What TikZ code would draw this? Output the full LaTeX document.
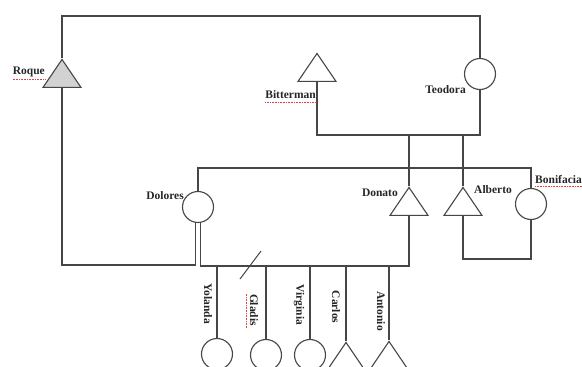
\documentclass[tikz,border=0pt]{standalone}
\usepackage{fontspec}
\setmainfont{Liberation Serif}
\usetikzlibrary{shapes.geometric}
\definecolor{linegray}{HTML}{464646}
\definecolor{roquefill}{HTML}{D2D2D2}
\definecolor{spellred}{HTML}{E04040}
\begin{document}
\begin{tikzpicture}[x=1pt,y=-1pt,
  conn/.style={draw=linegray, line width=1.3pt},
  male/.style={draw=linegray, line width=1.1pt, fill=white, isosceles triangle, shape border rotate=90,
    isosceles triangle stretches, minimum width=38pt, minimum height=28pt, inner sep=0pt},
  female/.style={draw=linegray, line width=1.1pt, fill=white, circle, minimum size=31pt, inner sep=0pt},
  lbl/.style={font=\fontsize{11.5}{12}\selectfont\bfseries, text=black!85, inner sep=0pt},
  vlbl/.style={lbl, rotate=-90},
  squig/.style={draw=spellred, densely dotted, line width=0.6pt}]
\useasboundingbox (0,0) rectangle (582,367);
\clip (0,0) rectangle (582,367);

% persons
\node[male, fill=roquefill, anchor=apex] (roque) at (62,58) {};
\node[female] (teodora) at (480,74) {};
\node[male, anchor=apex] (bitterman) at (317,52) {};
\node[female] (dolores) at (198,207) {};
\node[male, anchor=apex] (donato) at (409,186) {};
\node[male, anchor=apex] (alberto) at (463,186) {};
\node[female] (bonifacia) at (531,204) {};
\node[female] (yolanda) at (217,354) {};
\node[female] (gladis) at (266,355) {};
\node[female] (virginia) at (310,355) {};
\node[male, anchor=apex] (carlos) at (346,341) {};
\node[male, anchor=apex] (antonio) at (389,340) {};

% helper coordinates
\coordinate (topL) at (62,16);
\coordinate (topR) at (480,16);
\coordinate (btL) at (317,135);
\coordinate (btR) at (480,135);
\coordinate (sibA) at (198,168);
\coordinate (sibB) at (531,168);
\coordinate (rqB) at (62,265);
\coordinate (sibL) at (202,266);
\coordinate (sibR) at (409,266);
\coordinate (abL) at (463,259);
\coordinate (abR) at (531,259);
\coordinate (slashA) at (240,279);
\coordinate (slashB) at (261,251);

% connectors
\draw[conn] (roque.apex) -- (topL) -- (topR) -- (teodora.north);
\draw[conn] (bitterman.south) -- (btL) -- (btR) -- (teodora.south);
\draw[conn] (donato.apex) -- (donato.apex |- btL);
\draw[conn] (alberto.apex) -- (alberto.apex |- btL);
\draw[conn] (dolores.north) -- (sibA) -- (sibB) -- (bonifacia.north);
\draw[conn] (dolores.260) -- (dolores.260 |- rqB) -- (rqB) -- (roque.south);
\draw[conn] (dolores.280) -- (dolores.280 |- sibL) -- (sibR) -- (donato.south);
\draw[conn] (alberto.south) -- (abL) -- (abR) -- (bonifacia.south);
\foreach \c in {yolanda,gladis,virginia}
  \draw[conn] (\c.north) -- (\c.north |- sibL);
\foreach \c in {carlos,antonio}
  \draw[conn] (\c.apex) -- (\c.apex |- sibL);
\draw[draw=linegray, line width=1pt] (slashA) -- (slashB);

% labels
\node[lbl, anchor=east] (lroque) at (45,72) {Roque};
\node[lbl, anchor=east] (lbitterman) at (316,95) {Bitterman};
\node[lbl, anchor=east] (lteodora) at (466,90) {Teodora};
\node[lbl, anchor=east] (ldolores) at (184,196) {Dolores};
\node[lbl, anchor=east] (ldonato) at (398,193) {Donato};
\node[lbl, anchor=west] (lalberto) at (474,190) {Alberto};
\node[lbl, anchor=west] (lbonifacia) at (535,180) {Bonifacia};
\node[vlbl] (lyolanda) at (208,304) {Yolanda};
\node[vlbl] (lgladis) at (254,310) {Gladis};
\node[vlbl] (lvirginia) at (299,305) {Virginia};
\node[vlbl] (lcarlos) at (336,307) {Carlos};
\node[vlbl] (lantonio) at (381,311) {Antonio};

% spell-check underlines
\draw[squig] (lroque.south west) ++(0,2) -- ++(33,0);
\draw[squig] (lbitterman.south west) ++(0,3) -- ++(52,0);
\draw[squig] (lbonifacia.south west) ++(0,2) -- ++(48,0);
\draw[squig] (lgladis.south west) ++(-3,0) -- ++(0,35);
\end{tikzpicture}
\end{document}
